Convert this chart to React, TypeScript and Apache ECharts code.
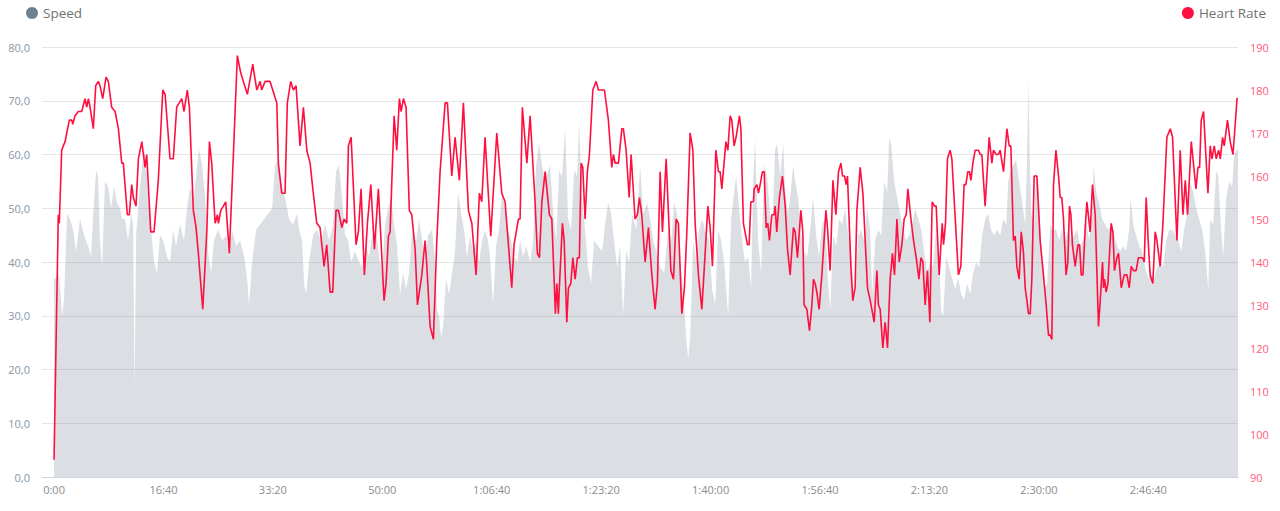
import React, { useEffect, useRef } from "react";
import * as echarts from "echarts";

// elapsed seconds, heart rate (bpm)
const heartRate: [number, number][] = [
  [0,94],[39,151],[48,149],[70,166],[85,167],[101,168],[116,170],[140,173],[162,173],[171,172],[192,174],[222,175],[253,175],[283,178],[299,176],[314,178],[329,176],[359,171],[381,181],[405,182],[420,181],[445,178],[475,183],[496,182],[527,176],[558,175],[588,171],[619,163],[633,163],[670,151],[688,151],[710,158],[725,155],[749,153],[771,164],[802,168],[832,162],[847,165],[884,147],[914,147],[953,159],[994,180],[1015,179],[1060,164],[1090,164],[1121,176],[1167,178],[1188,175],[1218,180],[1237,176],[1273,152],[1298,148],[1319,142],[1359,129],[1396,147],[1420,168],[1441,163],[1472,149],[1493,151],[1502,149],[1524,152],[1547,153],[1569,154],[1602,142],[1639,165],[1675,188],[1706,184],[1730,182],[1767,179],[1816,186],[1828,184],[1853,180],[1883,182],[1898,180],[1929,182],[1974,182],[2036,177],[2050,163],[2081,156],[2111,156],[2132,177],[2163,182],[2187,180],[2212,181],[2248,167],[2279,176],[2310,166],[2340,163],[2365,157],[2401,149],[2431,148],[2468,139],[2492,144],[2523,133],[2547,133],[2577,152],[2599,152],[2630,148],[2651,150],[2675,149],[2690,167],[2715,169],[2760,144],[2781,147],[2806,157],[2836,137],[2864,149],[2895,158],[2928,143],[2964,157],[3016,131],[3034,135],[3056,146],[3071,147],[3108,174],[3132,166],[3156,178],[3172,175],[3193,178],[3217,176],[3247,152],[3269,151],[3300,143],[3321,130],[3361,137],[3391,145],[3407,139],[3437,125],[3467,122],[3498,145],[3528,161],[3574,177],[3595,177],[3635,160],[3665,169],[3704,159],[3741,177],[3787,152],[3818,149],[3857,137],[3887,156],[3909,154],[3939,169],[3991,146],[4046,170],[4092,156],[4122,154],[4183,134],[4204,144],[4244,150],[4259,150],[4280,176],[4321,163],[4351,174],[4396,154],[4417,142],[4436,141],[4458,154],[4488,161],[4527,151],[4549,150],[4582,128],[4595,135],[4609,128],[4618,134],[4646,149],[4662,145],[4686,126],[4701,134],[4723,135],[4741,141],[4762,136],[4783,141],[4801,141],[4817,163],[4832,162],[4853,150],[4874,161],[4893,165],[4924,180],[4954,182],[4975,180],[5006,180],[5021,180],[5030,180],[5066,173],[5097,162],[5112,165],[5128,163],[5158,163],[5189,171],[5203,171],[5228,166],[5256,155],[5274,165],[5310,150],[5331,151],[5350,155],[5371,151],[5402,140],[5432,148],[5463,137],[5493,129],[5514,135],[5539,161],[5560,147],[5594,164],[5637,138],[5661,136],[5685,150],[5706,149],[5737,128],[5761,134],[5783,147],[5813,170],[5838,166],[5859,149],[5889,137],[5920,129],[5941,138],[5975,153],[5996,148],[6017,139],[6048,166],[6072,161],[6087,161],[6103,157],[6140,168],[6158,166],[6179,174],[6194,173],[6215,167],[6233,169],[6264,174],[6277,171],[6300,149],[6337,144],[6352,144],[6368,154],[6392,154],[6398,157],[6423,158],[6438,156],[6453,158],[6474,161],[6490,161],[6508,148],[6523,149],[6538,145],[6560,151],[6581,151],[6590,153],[6605,147],[6629,155],[6657,160],[6682,153],[6703,143],[6727,137],[6757,148],[6773,147],[6794,141],[6825,152],[6843,147],[6855,130],[6880,129],[6904,124],[6926,130],[6940,136],[6956,135],[6971,133],[6992,129],[7017,137],[7054,152],[7068,148],[7093,138],[7118,159],[7145,151],[7169,161],[7191,163],[7206,160],[7224,160],[7239,158],[7251,160],[7282,139],[7300,131],[7321,134],[7337,152],[7367,162],[7392,156],[7413,145],[7434,134],[7459,131],[7474,129],[7495,126],[7520,138],[7534,130],[7550,129],[7574,120],[7595,126],[7617,120],[7641,136],[7662,142],[7681,137],[7703,150],[7724,140],[7748,144],[7769,150],[7788,151],[7803,157],[7831,150],[7855,145],[7879,141],[7904,136],[7922,141],[7940,140],[7961,130],[7982,138],[8004,126],[8025,154],[8046,153],[8062,153],[8089,137],[8117,149],[8129,144],[8147,149],[8165,164],[8189,166],[8205,164],[8265,137],[8287,139],[8317,158],[8333,158],[8351,161],[8366,161],[8379,159],[8397,163],[8418,166],[8448,166],[8464,165],[8479,165],[8509,153],[8546,169],[8571,163],[8585,166],[8610,165],[8631,165],[8646,166],[8677,161],[8708,171],[8729,167],[8744,167],[8768,145],[8784,146],[8799,139],[8820,136],[8839,147],[8860,142],[8875,134],[8891,131],[8905,128],[8921,128],[8936,136],[8957,160],[8982,160],[9012,145],[9042,137],[9067,130],[9088,123],[9103,123],[9119,122],[9134,158],[9156,166],[9180,160],[9195,155],[9210,155],[9225,150],[9249,137],[9265,140],[9280,153],[9293,151],[9307,144],[9332,139],[9357,144],[9372,144],[9387,137],[9403,137],[9424,148],[9439,154],[9469,147],[9490,158],[9515,151],[9545,125],[9561,131],[9582,140],[9591,134],[9600,136],[9615,133],[9631,135],[9661,149],[9677,147],[9691,138],[9713,141],[9728,142],[9753,134],[9780,137],[9805,137],[9826,134],[9844,139],[9865,138],[9889,138],[9910,141],[9932,141],[9947,141],[9963,140],[9981,155],[9997,146],[10017,137],[10042,135],[10063,147],[10079,145],[10109,139],[10134,149],[10170,169],[10201,171],[10222,169],[10262,145],[10292,166],[10317,151],[10338,159],[10359,151],[10393,168],[10436,157],[10454,162],[10469,162],[10484,173],[10505,175],[10545,156],[10566,167],[10582,164],[10603,167],[10621,164],[10643,166],[10658,164],[10679,169],[10694,167],[10724,173],[10749,168],[10774,165],[10786,169],[10811,178],[10820,178]
];

// elapsed seconds, speed (km/h)
const speed: [number, number][] = [
  [0,37],[18,37],[46,38],[73,30],[91,33],[119,49],[146,48],[174,46],[201,42],[238,48],[274,45],[311,43],[338,41],[356,48],[384,57],[402,56],[420,44],[439,39],[466,55],[494,54],[521,50],[548,54],[576,51],[603,50],[622,48],[649,48],[676,44],[704,49],[722,47],[736,16],[750,45],[777,52],[804,58],[832,61],[859,52],[887,46],[914,40],[941,38],[969,45],[996,44],[1033,41],[1060,40],[1088,46],[1115,43],[1152,47],[1188,44],[1216,50],[1243,54],[1280,52],[1307,58],[1325,61],[1353,58],[1380,52],[1408,42],[1435,38],[1462,44],[1499,46],[1536,44],[1572,45],[1600,41],[1627,46],[1663,43],[1700,44],[1737,41],[1764,37],[1782,32],[1810,40],[1846,46],[1883,47],[1919,48],[1956,49],[1993,50],[2020,58],[2047,59],[2075,55],[2111,52],[2148,48],[2184,47],[2221,49],[2239,46],[2267,44],[2285,36],[2303,34],[2331,40],[2367,45],[2404,46],[2440,44],[2477,47],[2514,44],[2550,47],[2577,57],[2605,58],[2632,52],[2660,45],[2687,44],[2715,40],[2751,42],[2788,40],[2815,39],[2852,43],[2879,41],[2907,45],[2943,46],[2971,41],[2998,38],[3025,47],[3053,50],[3080,52],[3108,47],[3135,43],[3162,34],[3190,38],[3217,35],[3245,38],[3272,46],[3309,44],[3336,48],[3364,44],[3391,40],[3418,45],[3455,46],[3483,40],[3501,31],[3519,30],[3537,26],[3555,28],[3583,37],[3610,34],[3638,38],[3665,42],[3692,53],[3720,49],[3747,46],[3775,41],[3802,45],[3830,42],[3857,44],[3885,40],[3912,44],[3939,46],[3966,44],[3985,41],[4012,32],[4040,43],[4067,46],[4095,53],[4122,50],[4149,46],[4177,44],[4204,41],[4232,40],[4259,44],[4287,41],[4314,43],[4351,40],[4378,44],[4406,58],[4433,62],[4460,58],[4488,55],[4515,57],[4534,58],[4561,49],[4589,44],[4616,57],[4643,56],[4671,65],[4698,48],[4725,46],[4753,57],[4780,56],[4799,66],[4826,51],[4853,46],[4881,39],[4908,36],[4935,44],[4972,43],[5009,42],[5036,47],[5064,51],[5091,49],[5118,44],[5146,39],[5173,43],[5201,30],[5228,42],[5256,40],[5283,49],[5320,46],[5356,58],[5384,49],[5420,51],[5448,48],[5475,44],[5503,42],[5539,39],[5576,38],[5612,46],[5640,44],[5667,51],[5694,49],[5722,40],[5749,35],[5777,26],[5795,22],[5813,26],[5841,44],[5868,40],[5895,46],[5923,48],[5960,45],[5987,44],[6014,35],[6042,32],[6069,46],[6096,44],[6124,40],[6160,30],[6188,48],[6215,53],[6233,56],[6261,50],[6288,44],[6315,40],[6343,41],[6370,35],[6389,55],[6407,63],[6434,44],[6462,38],[6489,58],[6517,56],[6544,49],[6563,45],[6590,61],[6608,62],[6636,56],[6663,62],[6682,53],[6709,49],[6727,52],[6755,58],[6773,55],[6800,52],[6828,45],[6855,42],[6883,41],[6910,46],[6937,52],[6965,45],[6992,41],[7019,47],[7047,48],[7074,36],[7093,31],[7120,45],[7148,43],[7175,48],[7202,47],[7230,50],[7257,45],[7285,42],[7303,36],[7321,33],[7349,45],[7376,46],[7404,44],[7431,50],[7458,46],[7477,34],[7504,44],[7532,46],[7559,45],[7587,55],[7614,53],[7632,63],[7650,62],[7678,55],[7705,52],[7732,49],[7760,46],[7787,44],[7815,45],[7842,47],[7870,50],[7897,48],[7925,46],[7952,42],[7979,38],[8007,40],[8034,39],[8062,47],[8089,42],[8107,31],[8126,30],[8153,41],[8181,39],[8208,37],[8235,35],[8263,37],[8290,34],[8317,33],[8345,36],[8372,34],[8400,38],[8427,40],[8455,39],[8482,45],[8510,48],[8537,49],[8564,46],[8592,45],[8619,46],[8647,45],[8674,48],[8702,47],[8720,55],[8738,57],[8766,58],[8793,59],[8820,55],[8848,51],[8875,47],[8893,60],[8903,74],[8916,60],[8930,49],[8957,47],[8975,57],[8994,55],[9021,43],[9048,35],[9076,36],[9103,47],[9130,46],[9158,46],[9185,44],[9213,46],[9240,44],[9268,46],[9295,44],[9322,45],[9350,46],[9377,43],[9405,44],[9432,48],[9459,44],[9487,50],[9500,58],[9524,53],[9551,51],[9578,48],[9606,47],[9633,46],[9661,47],[9688,45],[9716,43],[9743,42],[9771,43],[9798,42],[9825,46],[9839,52],[9862,47],[9889,45],[9917,43],[9944,42],[9972,39],[9999,37],[10026,38],[10054,37],[10081,39],[10109,40],[10136,39],[10163,44],[10191,46],[10218,46],[10246,45],[10273,44],[10301,42],[10328,46],[10356,49],[10383,55],[10411,53],[10438,50],[10465,48],[10493,46],[10520,42],[10548,35],[10566,48],[10593,47],[10621,57],[10639,56],[10666,46],[10685,41],[10712,52],[10740,55],[10767,54],[10785,60],[10813,61],[10820,61]
];

const timeTicks = [0, 1000, 2000, 3000, 4000, 5000, 6000, 7000, 8000, 9000, 10000];

function formatElapsed(s: number): string {
  const h = Math.floor(s / 3600);
  const m = Math.floor((s % 3600) / 60);
  const sec = Math.round(s % 60);
  const ss = String(sec).padStart(2, "0");
  if (h > 0) return `${h}:${String(m).padStart(2, "0")}:${ss}`;
  return `${m}:${ss}`;
}

const FONT = "'Open Sans', 'Noto Sans', sans-serif";
const SPEED_COLOR = "#6e8191";
const HR_COLOR = "#ff0f3f";

export default function App() {
  const ref = useRef<HTMLDivElement>(null);

  useEffect(() => {
    if (!ref.current) return;
    const chart = echarts.init(ref.current, undefined, { renderer: "svg" });
    const legendText = { fontSize: 13.5, color: "#727272", fontFamily: FONT };
    chart.setOption({
      animation: false,
      backgroundColor: "#ffffff",
      textStyle: { fontFamily: FONT },
      grid: { left: 42, right: 42, top: 47, bottom: 34, containLabel: false },
      legend: [
        {
          data: [{ name: "Speed", itemStyle: { color: SPEED_COLOR } }],
          left: 26,
          top: 6,
          padding: 0,
          icon: "circle",
          itemWidth: 12,
          itemHeight: 12,
          selectedMode: false,
          textStyle: legendText,
        },
        {
          data: [{ name: "Heart Rate", itemStyle: { color: HR_COLOR } }],
          right: 14,
          top: 6,
          padding: 0,
          icon: "circle",
          itemWidth: 12,
          itemHeight: 12,
          selectedMode: false,
          textStyle: legendText,
        },
      ],
      xAxis: {
        type: "value",
        min: -110,
        max: 10820,
        axisLine: { show: true, lineStyle: { color: "#ccd6eb", width: 1 } },
        axisTick: { show: false },
        splitLine: { show: false },
        axisLabel: {
          customValues: timeTicks,
          formatter: (v: number) => formatElapsed(v),
          color: "#8c8c8c",
          fontSize: 11,
          margin: 7,
          fontFamily: FONT,
        },
      },
      yAxis: [
        {
          type: "value",
          min: 0,
          max: 80,
          interval: 10,
          axisLine: { show: false },
          axisTick: { show: false },
          splitLine: { show: true, lineStyle: { color: "#e6e6e6", width: 1 } },
          axisLabel: {
            formatter: (v: number) => v.toFixed(1).replace(".", ","),
            color: "#8596a8",
            fontSize: 11,
            margin: 12,
            fontFamily: FONT,
          },
        },
        {
          type: "value",
          position: "right",
          min: 90,
          max: 190,
          interval: 10,
          axisLine: { show: false },
          axisTick: { show: false },
          splitLine: { show: false },
          axisLabel: {
            color: "#ff5a78",
            fontSize: 11,
            margin: 12,
            fontFamily: FONT,
          },
        },
      ],
      series: [
        {
          name: "Speed",
          type: "line",
          yAxisIndex: 0,
          data: speed,
          symbol: "none",
          showSymbol: false,
          lineStyle: { width: 0 },
          itemStyle: { color: SPEED_COLOR },
          areaStyle: { color: "rgba(110,129,145,0.25)", opacity: 1 },
          z: 1,
        },
        {
          name: "Heart Rate",
          type: "line",
          yAxisIndex: 1,
          data: heartRate,
          symbol: "none",
          showSymbol: false,
          lineStyle: { width: 1.6, color: HR_COLOR },
          itemStyle: { color: HR_COLOR },
          z: 3,
        },
      ],
    });
    return () => chart.dispose();
  }, []);

  return (
    <div
      ref={ref}
      style={{ position: "fixed", left: 0, top: 0, width: 1280, height: 511, background: "#fff" }}
    />
  );
}
